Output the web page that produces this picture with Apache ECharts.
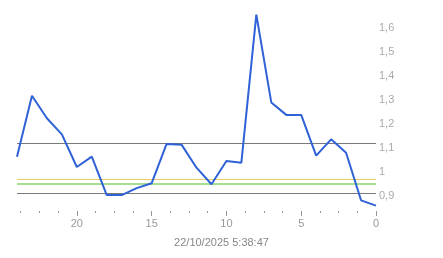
<!DOCTYPE html>
<html>
<head>
<meta charset="utf-8">
<script src="https://cdn.jsdelivr.net/npm/echarts@6/dist/echarts.min.js"></script>
<style>html,body{margin:0;padding:0;background:#fff;}#c{width:443px;height:258px;}</style>
</head>
<body>
<div id="c"></div>
<script>
// x = steps back (24 .. 0), y = measured value
const xValues = [24,23,22,21,20,19,18,17,16,15,14,13,12,11,10,9,8,7,6,5,4,3,2,1,0];
const yValues = [1.064,1.318,1.224,1.157,1.021,1.064,0.904,0.904,0.933,0.953,1.117,1.114,1.018,0.949,1.046,1.039,1.656,1.290,1.238,1.238,1.068,1.136,1.080,0.882,0.860];
const xTickLabels = [0,5,10,15,20];
const grayLines = [1.12, 0.908];
const yellowLine = 0.970;
const greenLine = 0.955;
const xTitle = '22/10/2025 5:38:47';

const chart = echarts.init(document.getElementById('c'), null, {renderer:'canvas'});
const data = xValues.map((x,i)=>[x, yValues[i]]);
const font = 'Arial, "Liberation Sans", sans-serif';
chart.setOption({
  animation:false,
  backgroundColor:'#fff',
  title:{text:xTitle,left:'center',top:232,textStyle:{fontSize:11,fontWeight:'normal',color:'#888',fontFamily:font}},
  grid:{left:17,right:67,top:4,bottom:38},
  xAxis:{type:'value',min:0,max:24,interval:5,inverse:true,offset:-9,
    axisLine:{show:false},
    axisTick:{show:true,length:5,lineStyle:{color:'#999'},customValues:xTickLabels},
    minorTick:{show:true,splitNumber:4,length:2,lineStyle:{color:'#999'}},
    splitLine:{show:false},
    axisLabel:{color:'#999',fontSize:11,margin:7,fontFamily:font,customValues:xTickLabels}},
  yAxis:{type:'value',position:'right',min:0.8,max:1.7,interval:0.1,
    axisLine:{show:false},axisTick:{show:false},splitLine:{show:false},
    axisLabel:{color:'#aaa',fontSize:11,margin:3,fontFamily:font,
      formatter:function(v){const r=Math.round(v*10)/10; if(r<0.85||r>1.65) return ''; return String(r).replace('.',',');}}},
  series:[{type:'line',data:data,showSymbol:false,symbol:'none',
    lineStyle:{color:'#2f62d6',width:2},z:5,
    markLine:{silent:true,symbol:'none',label:{show:false},animation:false,
      data:[
        {yAxis:grayLines[0],lineStyle:{color:'#7a7a7a',width:1,type:'solid'}},
        {yAxis:grayLines[1],lineStyle:{color:'#7a7a7a',width:1,type:'solid'}},
        {yAxis:yellowLine,lineStyle:{color:'#eccb62',width:1,type:'solid'}},
        {yAxis:greenLine,lineStyle:{color:'#a6df8e',width:2,type:'solid'}}
      ]}}]
});
</script>
</body>
</html>
